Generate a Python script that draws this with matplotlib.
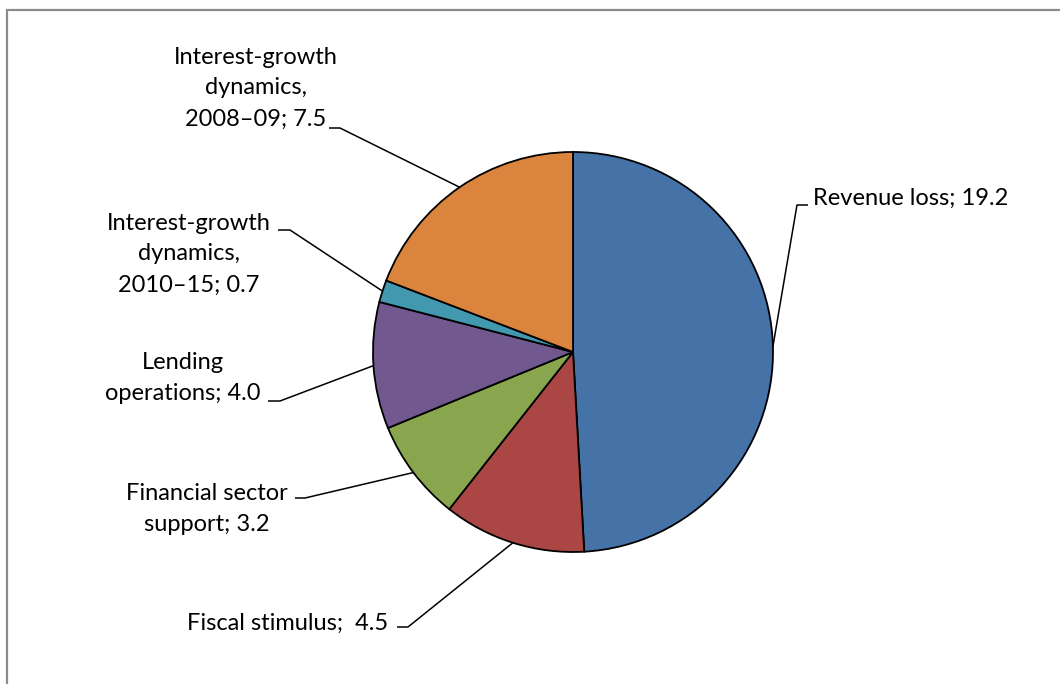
"""Pie chart: contributions to the increase in the debt ratio, with leader-line labels."""
import matplotlib

matplotlib.use("Agg")
import matplotlib.pyplot as plt
import numpy as np
from matplotlib.patches import Rectangle

W, H = 1060, 684

categories = [
    "Revenue loss",
    "Fiscal stimulus",
    "Financial sector\nsupport",
    "Lending\noperations",
    "Interest-growth\ndynamics,\n2010\u201315",
    "Interest-growth\ndynamics,\n2008\u201309",
]
values = [19.2, 4.5, 3.2, 4.0, 0.7, 7.5]
value_fmt = ["{:.1f}", " {:.1f}", "{:.1f}", "{:.1f}", "{:.1f}", "{:.1f}"]
colors = ["#4572a7", "#aa4643", "#89a54e", "#71588f", "#4198af", "#db843d"]

# label anchor (pixel coords from top-left), horizontal alignment
label_pos = [
    (813, 198, "left"),
    (388, 623, "right"),
    (207, 509, "center"),
    (183, 378, "center"),
    (189, 254, "center"),
    (256, 88, "center"),
]
# short horizontal stub at the label end of each leader line
elbows = [
    ((808, 205), (797, 205)),
    ((397, 627), (408, 627)),
    ((295, 498), (305, 498)),
    ((268, 401), (280, 401)),
    ((278, 230), (290, 230)),
    ((329, 128), (340, 128)),
]

CX, CY, R = 573, 352, 200


def fy(y):
    return H - y


plt.rcParams["font.family"] = ["Lato", "DejaVu Sans"]
fig = plt.figure(figsize=(W / 100, H / 100), dpi=100)
ax = fig.add_axes([0, 0, 1, 1])

wedges, _ = ax.pie(
    values,
    colors=colors,
    startangle=90,
    counterclock=False,
    radius=R,
    center=(CX, fy(CY)),
    wedgeprops=dict(edgecolor="black", linewidth=1.3),
)
ax.set_xlim(0, W)
ax.set_ylim(0, H)
ax.set_aspect("equal")
ax.set_axis_off()

for w, name, val, fmt, (tx, ty, ha), (p0, p1) in zip(
    wedges, categories, values, value_fmt, label_pos, elbows
):
    ang = np.deg2rad((w.theta1 + w.theta2) / 2)
    ex, ey = CX + R * np.cos(ang), fy(CY) + R * np.sin(ang)
    ax.plot([p0[0], p1[0], ex], [fy(p0[1]), fy(p1[1]), ey],
            color="black", lw=1.1, solid_capstyle="butt")
    ax.text(tx, fy(ty), f"{name}; " + fmt.format(val), ha=ha, va="center",
            fontsize=17, linespacing=1.58, multialignment="center",
            color="black")

# outer chart-area frame (open on the right and bottom)
ax.add_patch(Rectangle((6.5, -20), W + 20, fy(9.5) + 20, fill=False,
                       edgecolor="#8c8c8c", lw=1.6, clip_on=False))

fig.savefig("out.png", dpi=100)
